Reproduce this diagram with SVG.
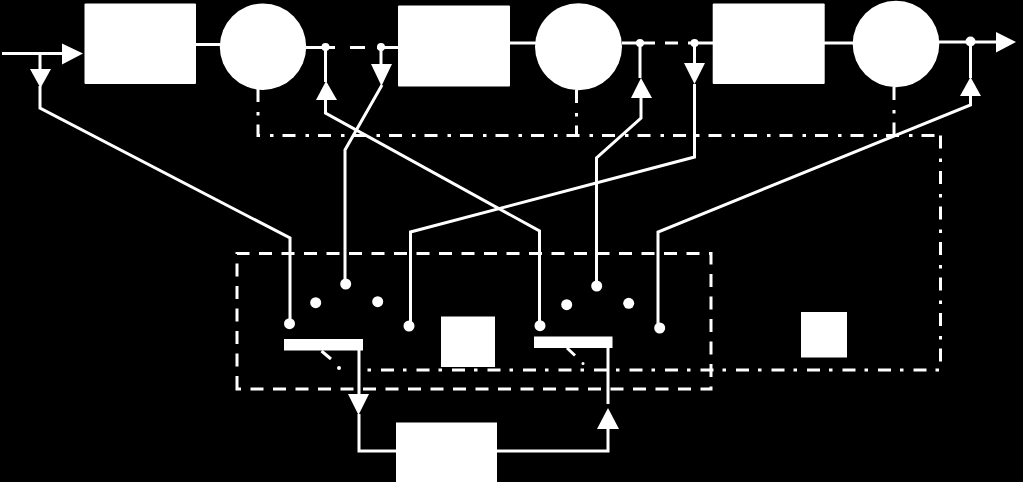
<svg xmlns="http://www.w3.org/2000/svg" width="1023" height="482" viewBox="0 0 1023 482">
<style>
.n{fill:#fff}
.l{fill:none;stroke:#fff;stroke-width:3}
.dd{fill:none;stroke:#fff;stroke-width:3;stroke-dasharray:13 10 3.5 9}
.d{fill:none;stroke:#fff;stroke-width:3;stroke-dasharray:13 9.5}
</style>
<rect width="1023" height="482" fill="#000"/>
<g id="connectors">
<path class="l" d="M2 53.5H64M40 53.5V70M40 86V108L290 238V322"/>
<path class="l" d="M196 44.5H221M510 43H536M824 43H853M939 42H998"/>
<path class="l" d="M306 47.5H335M350 47.5H365M377 47.5H399M622 43H655M665 43H678M688 43H713"/>
<path class="l" d="M325.5 47V82M325.5 98V113L539.5 231V324"/>
<path class="l" d="M381 47V66M382 85L345 150V283"/>
<path class="l" d="M640 43V78M641 97V118L596.5 158V285"/>
<path class="l" d="M694.5 43V65M694.5 84V157L410.5 232V325"/>
<path class="l" d="M970.5 42V78M970.5 95V105L658 232V327"/>
<path class="l" d="M359 350V396M359 414V451H397M497 451H608V427M608 348V404"/>
<path class="dd" d="M258 89V135.500H941"/>
<path class="dd" d="M576.500 90V135.500"/>
<path class="dd" d="M894 87V135.500"/>
<path class="dd" d="M940.500 135.500V370H365"/>
<path class="l" d="M321.500 351L331 359M567 348L575 355.500" stroke-width="2"/>
<circle class="n" cx="339" cy="368" r="2"/>
<circle class="n" cx="583" cy="363.500" r="1.500"/>
<path class="d" d="M237 389V253.500H711V389Z"/>
</g>
<g id="arrows" class="n">
<polygon points="62,43.500 83,53.500 62,64.500"/>
<polygon points="30,69 51,69 40.500,88"/>
<polygon points="316,100 337,100 326,81"/>
<polygon points="371,64 392,64 381.500,86"/>
<polygon points="631,98 652,98 641,78"/>
<polygon points="684,63 705,63 694.500,84"/>
<polygon points="960,96 981,96 970.500,77"/>
<polygon points="996,32 1016,42 996,52.500"/>
<polygon points="348,394 369,394 358.500,415"/>
<polygon points="597,429 619,429 608,408"/>
</g>
<g id="junctions" class="n">
<circle cx="325.500" cy="47" r="4"/><circle cx="381" cy="47" r="4"/>
<circle cx="640" cy="43" r="4"/><circle cx="694.500" cy="43" r="4"/>
<circle cx="970.500" cy="41.500" r="5"/>
</g>
<rect id="block1" class="n" x="84.500" y="3.500" width="111.500" height="80.500" rx="1"/>
<circle id="circle1" class="n" cx="263" cy="46.700" r="43.200"/>
<rect id="block2" class="n" x="398" y="5.500" width="112" height="81" rx="1"/>
<circle id="circle2" class="n" cx="578.500" cy="46.700" r="43.500"/>
<rect id="block3" class="n" x="712.700" y="3.500" width="112" height="80.500" rx="1"/>
<circle id="circle3" class="n" cx="896" cy="44" r="43.300"/>
<g id="switch1" class="n">
<circle cx="289.500" cy="323.700" r="5.500"/><circle cx="315.700" cy="302.700" r="5.500"/>
<circle cx="345.700" cy="284" r="5.500"/><circle cx="377.700" cy="301.700" r="5.500"/>
<circle cx="409" cy="326" r="5.500"/>
<rect x="284" y="339" width="79" height="11.500"/>
</g>
<g id="switch2" class="n">
<circle cx="540" cy="325.700" r="5.500"/><circle cx="566.700" cy="304.700" r="5.500"/>
<circle cx="596.700" cy="286" r="5.500"/><circle cx="628.700" cy="303.300" r="5.500"/>
<circle cx="659.700" cy="328" r="5.500"/>
<rect x="534" y="336.500" width="78.500" height="11.500"/>
</g>
<rect id="square1" class="n" x="441" y="316.500" width="54" height="50.500"/>
<rect id="square2" class="n" x="801" y="312" width="46" height="45.500"/>
<rect id="block4" class="n" x="396" y="422.500" width="101" height="59.500"/>
</svg>
